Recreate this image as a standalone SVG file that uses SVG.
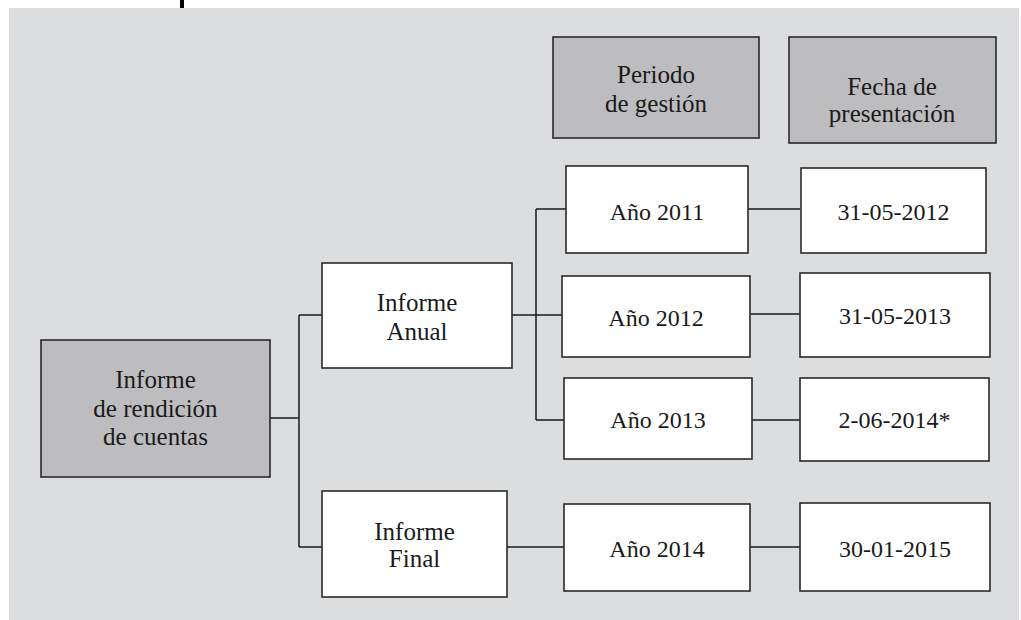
<svg xmlns="http://www.w3.org/2000/svg" width="1021" height="620" viewBox="0 0 1021 620">
  <style>
    .box { fill: #ffffff; stroke: #2a2a2a; stroke-width: 1.6; }
    .box.head { fill: #bdbdbf; }
    text { font-family: 'Liberation Serif', 'Times New Roman', serif; fill: #1a1a1a; text-anchor: middle; }
    .lbl { font-size: 25px; }
    .num { font-size: 24px; }
    .wire { fill: none; stroke: #1a1a1a; stroke-width: 1.5; }
  </style>

  <!-- panel background -->
  <rect x="9" y="8" width="1010" height="612" fill="#dcdddf"/>
  <rect x="180" y="0" width="4" height="8" fill="#000000"/>

  <!-- connectors -->
  <g id="connectors">
    <path class="wire" d="M270 418 H299 M299 315 V547 M299 315 H322 M299 547 H322"/>
    <path class="wire" d="M512 315 H536 M536 209 V420 M536 209 H566 M536 315 H562 M536 420 H564"/>
    <path class="wire" d="M507 547 H564"/>
    <path class="wire" d="M748 209 H800 M750 314 H800 M752 420 H800 M750 547 H800"/>
  </g>

  <!-- column headers -->
  <g id="hdr-periodo">
    <rect class="box head" x="553" y="37" width="206" height="101"/>
    <text class="lbl" x="656" y="83">Periodo</text>
    <text class="lbl" x="656" y="112">de gestión</text>
  </g>
  <g id="hdr-fecha">
    <rect class="box head" x="789" y="37" width="207" height="106"/>
    <text class="lbl" x="892" y="95">Fecha de</text>
    <text class="lbl" x="892" y="122">presentación</text>
  </g>

  <!-- root -->
  <g id="root">
    <rect class="box head" x="41" y="340" width="229" height="137"/>
    <text class="lbl" x="155.5" y="388">Informe</text>
    <text class="lbl" x="155.5" y="417">de rendición</text>
    <text class="lbl" x="155.5" y="445">de cuentas</text>
  </g>

  <!-- report types -->
  <g id="informe-anual">
    <rect class="box" x="322" y="263" width="190" height="105"/>
    <text class="lbl" x="417" y="311">Informe</text>
    <text class="lbl" x="417" y="340">Anual</text>
  </g>
  <g id="informe-final">
    <rect class="box" x="322" y="491" width="185" height="106"/>
    <text class="lbl" x="414.5" y="540">Informe</text>
    <text class="lbl" x="414.5" y="567">Final</text>
  </g>

  <!-- periods -->
  <g id="anio-2011">
    <rect class="box" x="566" y="166" width="182" height="87"/>
    <text class="num" x="657" y="220">Año 2011</text>
  </g>
  <g id="anio-2012">
    <rect class="box" x="562" y="276" width="188" height="81"/>
    <text class="num" x="656" y="326">Año 2012</text>
  </g>
  <g id="anio-2013">
    <rect class="box" x="564" y="378" width="188" height="81"/>
    <text class="num" x="658" y="428">Año 2013</text>
  </g>
  <g id="anio-2014">
    <rect class="box" x="564" y="504" width="186" height="87"/>
    <text class="num" x="657" y="557">Año 2014</text>
  </g>

  <!-- submission dates -->
  <g id="fecha-2012">
    <rect class="box" x="801" y="168" width="185" height="85"/>
    <text class="num" x="893.5" y="220">31-05-2012</text>
  </g>
  <g id="fecha-2013">
    <rect class="box" x="800" y="273" width="190" height="84"/>
    <text class="num" x="895" y="324">31-05-2013</text>
  </g>
  <g id="fecha-2014">
    <rect class="box" x="800" y="378" width="189" height="83"/>
    <text class="num" x="894.5" y="428">2-06-2014*</text>
  </g>
  <g id="fecha-2015">
    <rect class="box" x="800" y="503" width="190" height="88"/>
    <text class="num" x="895" y="557">30-01-2015</text>
  </g>
</svg>
